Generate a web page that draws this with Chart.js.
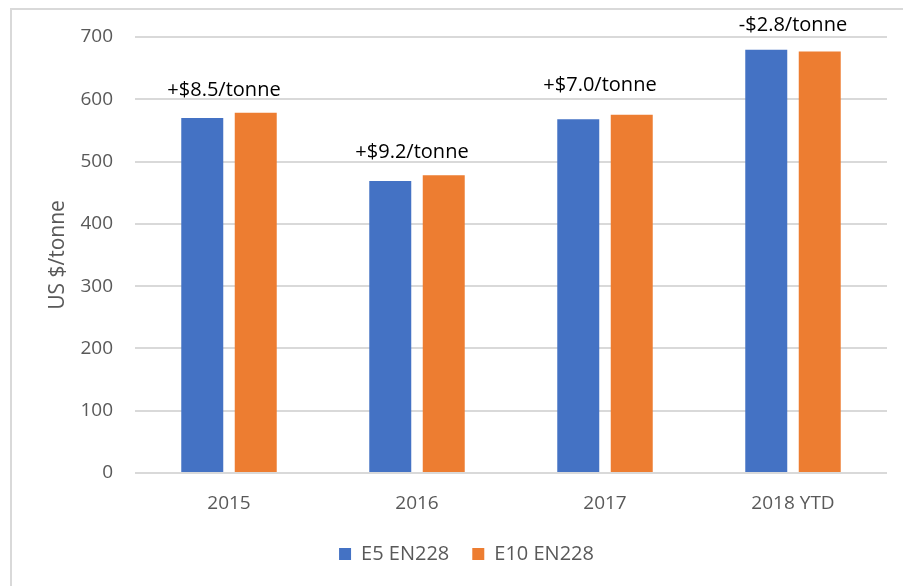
<!DOCTYPE html>
<html>
<head>
<meta charset="utf-8">
<script src="https://cdn.jsdelivr.net/npm/chart.js@4.4.1/dist/chart.umd.min.js"></script>
<style>
  html, body { margin: 0; padding: 0; background: #ffffff; }
  #wrap { position: relative; width: 903px; height: 586px; }
</style>
</head>
<body>
<div id="wrap"><canvas id="c" width="903" height="586"></canvas></div>
<script>
const categories = ["2015", "2016", "2017", "2018 YTD"];
const e5Values = [570.0, 469.0, 568.0, 679.5];
const e10Values = [578.5, 478.2, 575.0, 676.7];
const diffLabels = ["+$8.5/tonne", "+$9.2/tonne", "+$7.0/tonne", "-$2.8/tonne"];
const seriesNames = ["E5 EN228", "E10 EN228"];

const FONT = "'Open Sans', 'Liberation Sans', sans-serif";
const GRID = "#d9d9d9";
const TXT = "#595959";

const frame = {
  id: 'frame',
  beforeDraw(chart) {
    const ctx = chart.ctx;
    ctx.save();
    ctx.fillStyle = '#ffffff';
    ctx.fillRect(0, 0, chart.width, chart.height);
    ctx.strokeStyle = GRID;
    ctx.lineWidth = 2;
    ctx.beginPath();
    ctx.moveTo(11, chart.height);
    ctx.lineTo(11, 9);
    ctx.lineTo(chart.width, 9);
    ctx.stroke();
    ctx.restore();
  }
};

const legendShift = {
  id: 'legendShift',
  afterLayout(chart) {
    if (chart.legend) {
      chart.legend.left += 23;
      chart.legend.right += 23;
    }
  }
};

const diffText = {
  id: 'diffText',
  afterDatasetsDraw(chart, args, opts) {
    const ctx = chart.ctx;
    const xs = chart.scales.x, ys = chart.scales.y;
    ctx.save();
    ctx.font = opts.font;
    ctx.fillStyle = '#000000';
    ctx.textAlign = 'center';
    ctx.textBaseline = 'middle';
    diffLabels.forEach((t, i) => {
      const top = Math.max(e5Values[i], e10Values[i]);
      const x = xs.getPixelForValue(i) + opts.dx[i];
      const y = ys.getPixelForValue(top) + opts.dy[i];
      ctx.fillText(t, x, y);
    });
    ctx.restore();
  }
};

new Chart(document.getElementById('c'), {
  type: 'bar',
  data: {
    labels: categories,
    datasets: [
      { label: seriesNames[0], data: e5Values, backgroundColor: '#4472C4',
        categoryPercentage: 0.569, barPercentage: 0.785 },
      { label: seriesNames[1], data: e10Values, backgroundColor: '#ED7D31',
        categoryPercentage: 0.569, barPercentage: 0.785 }
    ]
  },
  options: {
    responsive: false,
    animation: false,
    devicePixelRatio: 1,
    layout: { padding: { left: 0, right: 16, top: 37, bottom: 12 } },
    scales: {
      y: {
        min: 0, max: 700,
        afterFit(s) { s.width = 135; },
        ticks: { stepSize: 100, color: TXT, padding: 22, font: { family: FONT, size: 19 } },
        grid: { color: GRID, lineWidth: 2, drawTicks: false },
        border: { display: false },
        title: { display: true, text: 'US $/tonne', color: TXT, font: { family: FONT, size: 21 }, padding: { top: 45, bottom: 0 } }
      },
      x: {
        afterFit(s) { s.height = 48; },
        ticks: { color: TXT, padding: 19, font: { family: FONT, size: 19 } },
        grid: { display: false, drawTicks: false },
        border: { display: false }
      }
    },
    plugins: {
      legend: {
        position: 'bottom',
        labels: { boxWidth: 12, boxHeight: 12, color: TXT, padding: 23, font: { family: FONT, size: 20 } }
      },
      tooltip: { enabled: false },
      diffText: { font: "20px 'Open Sans', 'Liberation Sans', sans-serif", dx: [-5, -5, -5, 0], dy: [-22, -23, -30, -24] }
    }
  },
  plugins: [frame, legendShift, diffText]
});
</script>
</body>
</html>
